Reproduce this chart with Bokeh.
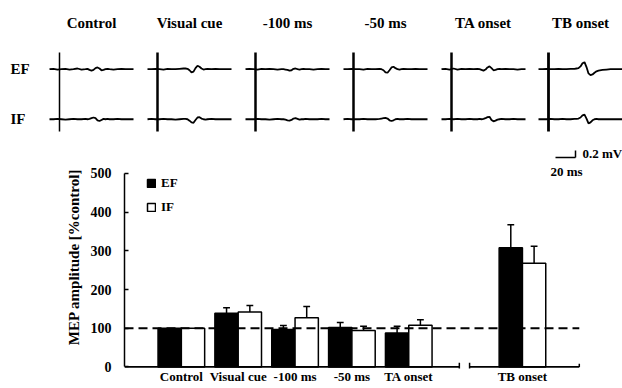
from bokeh.plotting import figure
from bokeh.models import Range1d, FixedTicker, Legend, LegendItem
from bokeh.embed import file_html
from bokeh.resources import INLINE
from bokeh.core.properties import value

# ---------------- data ----------------
conditions = ["Control", "Visual cue", "-100 ms", "-50 ms", "TA onset", "TB onset"]
bar_positions = [1, 2, 3, 4, 5, 7]
ef_mean = [100, 139, 97, 102, 88, 308]
ef_err = [0, 14, 10, 13, 17, 59]
if_mean = [100, 142, 127, 94, 108, 268]
if_err = [0, 17, 29, 11, 14, 44]
y_ticks = [0, 100, 200, 300, 400, 500]
reference_level = 100
axis_pieces = [(0.0, 5.89), (6.07, 8.0)]

# EMG traces (time in ms from trace start, amplitude in mV)
trace_t = [0, 4, 8, 12, 16, 20, 24, 28, 32, 36, 38, 40, 42, 44, 46, 48, 50, 52,
           54, 56, 58, 60, 64, 68, 72, 76, 80, 84]
stim_t = 10
ef_traces = [
    [0.00, 0.01, -0.01, 0.00, 0.01, -0.01, 0.00, 0.02, -0.01, 0.00, 0.01, -0.02, -0.04, -0.02,
     0.03, 0.05, 0.02, -0.03, -0.02, 0.00, 0.01, 0.00, -0.01, 0.00, 0.01, 0.00, 0.00, 0.00],
    [0.00, 0.00, 0.01, 0.00, -0.01, 0.01, 0.00, 0.00, 0.01, 0.02, 0.02, 0.01, -0.03, -0.09,
     -0.07, 0.03, 0.10, 0.07, 0.02, -0.01, 0.00, 0.01, 0.00, 0.01, 0.00, 0.00, 0.00, 0.00],
    [0.00, 0.01, 0.00, -0.01, 0.01, 0.00, 0.01, 0.00, -0.01, 0.00, 0.00, -0.01, -0.02, -0.04,
     -0.03, 0.01, 0.02, 0.00, -0.01, 0.00, 0.01, 0.00, 0.00, -0.01, 0.00, 0.01, 0.00, 0.00],
    [0.00, 0.00, 0.01, 0.00, 0.00, -0.01, 0.01, 0.00, 0.00, 0.01, 0.00, -0.03, -0.09, -0.10,
     -0.03, 0.05, 0.07, 0.03, 0.00, -0.01, 0.00, 0.01, 0.00, 0.00, 0.01, 0.00, 0.00, 0.00],
    [0.00, 0.01, -0.01, 0.02, -0.01, 0.01, 0.00, 0.01, 0.00, 0.01, 0.00, -0.02, -0.04, -0.01,
     0.05, 0.08, 0.03, -0.03, -0.02, 0.00, 0.01, 0.00, 0.01, 0.00, 0.00, -0.01, 0.00, 0.00],
    [0.00, 0.00, 0.01, 0.00, 0.00, 0.01, 0.00, 0.00, 0.01, 0.01, 0.02, 0.03, 0.08, 0.17,
     0.20, 0.06, -0.12, -0.17, -0.15, -0.10, -0.06, -0.04, -0.02, -0.01, 0.00, 0.00, 0.00, 0.00],
]
if_traces = [
    [0.00, 0.00, 0.01, 0.00, -0.01, 0.00, 0.01, 0.00, 0.00, 0.01, 0.00, 0.01, 0.03, 0.05,
     0.03, -0.03, -0.05, -0.02, 0.01, 0.00, 0.01, 0.00, 0.00, 0.01, 0.00, 0.00, 0.00, 0.00],
    [0.00, 0.01, 0.00, 0.00, 0.01, 0.00, 0.00, -0.01, 0.00, 0.01, 0.01, 0.00, -0.04, -0.09,
     -0.10, -0.02, 0.05, 0.06, 0.02, 0.00, -0.01, 0.00, 0.01, 0.00, 0.00, 0.00, 0.00, 0.00],
    [0.00, 0.00, 0.00, 0.01, 0.00, 0.00, -0.01, 0.00, 0.01, 0.00, 0.00, -0.01, -0.03, -0.04,
     -0.02, 0.02, 0.03, 0.01, -0.01, 0.00, 0.00, 0.01, 0.00, 0.00, 0.00, 0.01, 0.00, 0.00],
    [0.00, 0.01, 0.00, 0.00, 0.00, 0.01, 0.00, 0.00, 0.00, 0.01, 0.02, 0.03, 0.04, 0.02,
     -0.03, -0.05, -0.03, 0.00, 0.01, 0.00, 0.00, 0.00, 0.01, 0.00, 0.00, 0.00, 0.00, 0.00],
    [0.00, 0.00, 0.01, 0.00, 0.01, 0.00, 0.00, 0.01, 0.00, 0.00, 0.01, 0.00, 0.01, 0.03,
     0.06, 0.07, -0.02, -0.06, -0.04, -0.01, 0.00, 0.01, 0.00, 0.00, 0.01, 0.00, 0.00, 0.00],
    [0.00, 0.00, 0.00, 0.01, 0.00, 0.00, 0.01, 0.00, 0.00, 0.01, 0.01, 0.02, 0.05, 0.11,
     0.13, 0.02, -0.12, -0.09, -0.03, 0.00, 0.01, 0.00, 0.00, 0.00, 0.00, 0.00, 0.00, 0.00],
]
row_labels = ["EF", "IF"]
scale_ms = 20
scale_mv = 0.2

# ---------------- layout constants ----------------
FONT = value("Liberation Serif")
W = 622
TOP_H = 145
BOT_H = 243
BOT_B = 20
PX_PER_MV = 35.0
stim_x = [59, 157, 255, 353, 451, 548]  # stimulus line x (ms units, 1 px per ms)
stim_w = [1.5, 2.5, 2.5, 2.5, 2.5, 2.8]
ef_base = 2.18
if_base = 0.75

# ---------------- top panel: EMG traces ----------------
top = figure(width=W, height=TOP_H, output_backend="svg", toolbar_location=None,
             x_range=Range1d(0, W), y_range=Range1d(0, TOP_H / PX_PER_MV),
             x_axis_location=None, y_axis_location=None, min_border=0)
top.grid.visible = False
top.outline_line_color = None

xs, ys = [], []
for i in range(len(conditions)):
    x0 = stim_x[i] - stim_t
    xs.append([x0 + t for t in trace_t])
    ys.append([ef_base + v for v in ef_traces[i]])
    xs.append([x0 + t for t in trace_t])
    ys.append([if_base + v for v in if_traces[i]])
top.multi_line(xs, ys, line_color="black", line_width=1.8)
top.segment(x0=stim_x, y0=[0.4] * 6, x1=stim_x, y1=[2.66] * 6,
            line_color="black", line_width=stim_w)
top.text(x=[s - stim_t + trace_t[-1] / 2 for s in stim_x], y=[3.49] * 6, text=conditions,
         text_align="center", text_baseline="middle", text_font=FONT,
         text_font_style="bold", text_font_size="15px", text_color="black")
top.text(x=[10, 10], y=[ef_base, if_base], text=row_labels, text_align="left",
         text_baseline="middle", text_font=FONT, text_font_style="bold",
         text_font_size="15px", text_color="black")

# ---------------- bottom panel: bar chart ----------------
bot = figure(width=W, height=BOT_H, output_backend="svg", toolbar_location=None,
             x_range=Range1d(0, 8.76), y_range=Range1d(-4, 572),
             min_border_left=124, min_border_right=0, min_border_top=0,
             min_border_bottom=BOT_B)
bot.grid.visible = False
bot.outline_line_color = None

off = 0.205
bw = 0.41
ef_x = [p - off for p in bar_positions]
if_x = [p + off for p in bar_positions]
ef_r = bot.vbar(x=ef_x, top=ef_mean, bottom=0, width=bw, fill_color="black",
                line_color="black", line_width=1.5)
if_r = bot.vbar(x=if_x, top=if_mean, bottom=0, width=bw, fill_color="white",
                line_color="black", line_width=1.5)

for xx, m, e in ((ef_x, ef_mean, ef_err), (if_x, if_mean, if_err)):
    sel = [k for k in range(len(m)) if e[k] > 0]
    bx = [xx[k] for k in sel]
    lo = [m[k] for k in sel]
    hi = [m[k] + e[k] for k in sel]
    bot.segment(x0=bx, y0=lo, x1=bx, y1=hi, line_color="black", line_width=1.5)
    bot.segment(x0=[b - 0.06 for b in bx], y0=hi, x1=[b + 0.06 for b in bx], y1=hi,
                line_color="black", line_width=1.5)

# broken x axis line
bot.segment(x0=[a for a, b in axis_pieces], y0=[0, 0], x1=[b for a, b in axis_pieces],
            y1=[0, 0], line_color="black", line_width=1.8)
bot.segment(x0=[axis_pieces[0][1], axis_pieces[1][0]], y0=[-10, -10],
            x1=[axis_pieces[0][1], axis_pieces[1][0]], y1=[11, 11],
            line_color="black", line_width=1.5)
bot.segment(x0=[axis_pieces[1][1]], y0=[0], x1=[axis_pieces[1][1]], y1=[8],
            line_color="black", line_width=1.5)

# reference dashed line
bot.segment(x0=[axis_pieces[0][0]], y0=[reference_level], x1=[axis_pieces[1][1]],
            y1=[reference_level], line_color="black", line_width=2, line_dash="9 5")

# axes
yax = bot.yaxis[0]
yax.bounds = (0, 500)
yax.ticker = FixedTicker(ticks=y_ticks)
yax.major_tick_in = 4
yax.major_tick_out = 0
yax.minor_tick_line_color = None
yax.axis_line_width = 1.5
yax.major_tick_line_width = 1.5
yax.major_label_standoff = 13
yax.major_label_text_font = "Liberation Serif"
yax.major_label_text_font_style = "bold"
yax.major_label_text_font_size = "14px"
yax.major_label_text_color = "black"
yax.axis_label = "MEP amplitude [%control]"
yax.axis_label_standoff = 6
yax.axis_label_text_font = "Liberation Serif"
yax.axis_label_text_font_style = "bold"
yax.axis_label_text_font_size = "15px"
yax.axis_label_text_color = "black"

xax = bot.xaxis[0]
xax.ticker = FixedTicker(ticks=bar_positions)
xax.major_label_overrides = {p: c for p, c in zip(bar_positions, conditions)}
xax.axis_line_color = None
xax.major_tick_line_color = None
xax.minor_tick_line_color = None
xax.major_tick_out = 0
xax.major_tick_in = 0
xax.major_label_standoff = 0
xax.major_label_text_font = "Liberation Serif"
xax.major_label_text_font_style = "bold"
xax.major_label_text_font_size = "13px"
xax.major_label_text_color = "black"

legend = Legend(items=[LegendItem(label="EF", renderers=[ef_r]),
                       LegendItem(label="IF", renderers=[if_r])],
                location=(22, 151), padding=0, margin=0, spacing=4,
                glyph_width=10, glyph_height=10, label_height=20, label_standoff=5,
                border_line_color=None, background_fill_alpha=0,
                label_text_font="Liberation Serif", label_text_font_style="bold",
                label_text_font_size="13px", label_text_color="black")
bot.add_layout(legend)

# scale bar (same ms / mV scale as the traces)
frame_h = BOT_H - BOT_B
bot.extra_x_ranges = {"ms": Range1d(124, W)}
bot.extra_y_ranges = {"mV": Range1d(0, frame_h / PX_PER_MV)}
sb_x1 = 575
sb_y = 6.03
bot.segment(x0=[sb_x1 - scale_ms, sb_x1], y0=[sb_y, sb_y], x1=[sb_x1, sb_x1],
            y1=[sb_y, sb_y + scale_mv], x_range_name="ms", y_range_name="mV",
            line_color="black", line_width=1.5)
bot.text(x=[sb_x1 + 7], y=[6.14], text=[f"{scale_mv} mV"],
         x_range_name="ms", y_range_name="mV", text_align="left", text_baseline="middle",
         text_font=FONT, text_font_style="bold", text_font_size="13px", text_color="black")
bot.text(x=[sb_x1 - 9], y=[5.63], text=[f"{scale_ms} ms"],
         x_range_name="ms", y_range_name="mV", text_align="center", text_baseline="middle",
         text_font=FONT, text_font_style="bold", text_font_size="13px", text_color="black")

open("out.html", "w").write(file_html([top, bot], INLINE))
